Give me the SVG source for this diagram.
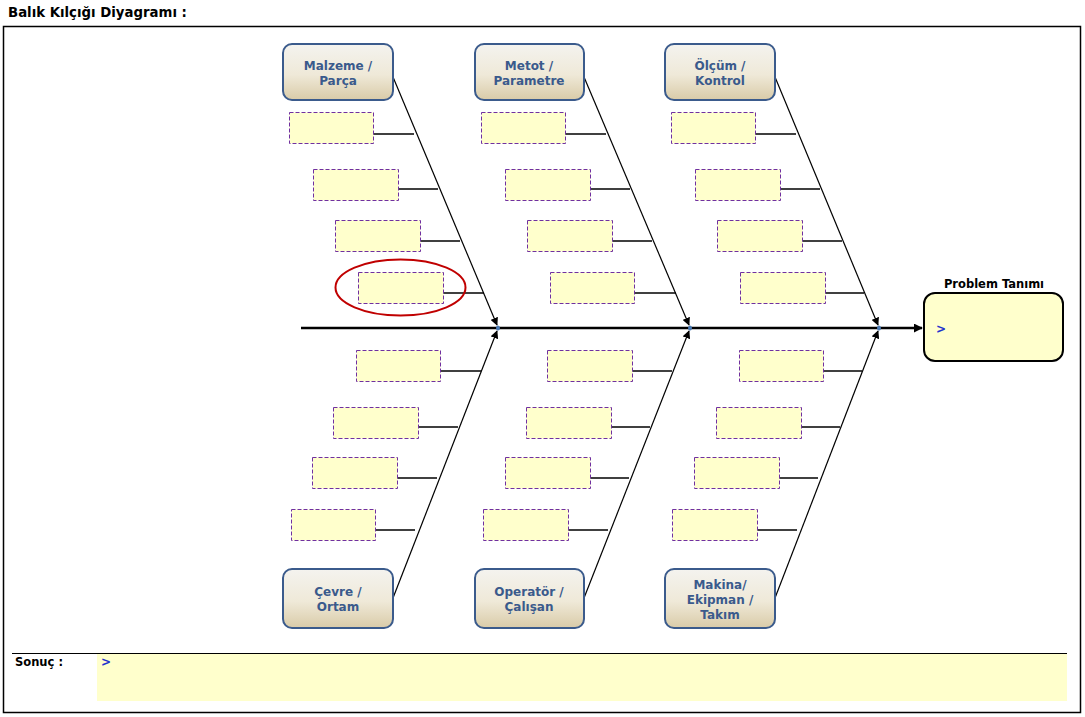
<svg xmlns="http://www.w3.org/2000/svg" width="1085" height="717" viewBox="0 0 1085 717">
<defs>
<linearGradient id="cat" x1="0" y1="0" x2="0" y2="1">
<stop offset="0" stop-color="#F4F3EF"/>
<stop offset="0.55" stop-color="#EFE9D8"/>
<stop offset="1" stop-color="#D9CBA8"/>
</linearGradient>
<marker id="ah" viewBox="0 0 10 10" refX="9" refY="5" markerWidth="8" markerHeight="8" markerUnits="userSpaceOnUse" orient="auto">
<path d="M0,0 L10,5 L0,10 z" fill="#000"/>
</marker>
<marker id="ahs" viewBox="0 0 10 10" refX="9" refY="5" markerWidth="9" markerHeight="9" markerUnits="userSpaceOnUse" orient="auto">
<path d="M0,0 L10,5 L0,10 z" fill="#000"/>
</marker>
</defs>
<style>
.cat{fill:url(#cat);stroke:#3B5B8C;stroke-width:2}
.ct{font-family:"DejaVu Sans",Verdana,sans-serif;font-weight:bold;font-size:12px;fill:#3A5A8C;text-anchor:middle}
.sb{fill:#FFFFCC;stroke:#7030A0;stroke-width:1;stroke-dasharray:4,2}
.tick{stroke:#000;stroke-width:1.3;fill:none}
.br{stroke:#000;stroke-width:1.2;fill:none;marker-end:url(#ah)}
.lbl{font-family:"DejaVu Sans",Verdana,sans-serif;font-weight:bold;font-size:11.5px;fill:#000}
.gt{font-family:"DejaVu Sans",Verdana,sans-serif;font-weight:bold;font-size:12px;fill:#2233CC}
.dot{fill:#4A7AB5}
</style>
<rect width="1085" height="717" fill="#fff"/>
<text x="8" y="17" font-family="DejaVu Sans, Verdana, sans-serif" font-weight="bold" font-size="13.3" fill="#000">Balık Kılçığı Diyagramı :</text>
<rect x="3.5" y="26.5" width="1077" height="686" fill="none" stroke="#000" stroke-width="1.5"/>

<g id="connectors">
<line x1="301" y1="328" x2="922" y2="328" stroke="#000" stroke-width="2.5" marker-end="url(#ahs)"/>
<line class="br" x1="393" y1="77" x2="497" y2="325"/>
<line class="br" x1="584" y1="77" x2="689" y2="325"/>
<line class="br" x1="775" y1="77" x2="878" y2="325"/>
<line class="br" x1="393" y1="598" x2="497" y2="331"/>
<line class="br" x1="584" y1="598" x2="689" y2="331"/>
<line class="br" x1="775" y1="598" x2="878" y2="331"/>
<line class="tick" x1="373" y1="134" x2="414" y2="134"/>
<line class="tick" x1="398" y1="189" x2="438" y2="189"/>
<line class="tick" x1="420" y1="241" x2="460" y2="241"/>
<line class="tick" x1="443" y1="293" x2="484" y2="293"/>
<line class="tick" x1="565" y1="134" x2="606" y2="134"/>
<line class="tick" x1="590" y1="189" x2="630" y2="189"/>
<line class="tick" x1="612" y1="241" x2="652" y2="241"/>
<line class="tick" x1="634" y1="293" x2="676" y2="293"/>
<line class="tick" x1="755" y1="134" x2="796" y2="134"/>
<line class="tick" x1="780" y1="189" x2="820" y2="189"/>
<line class="tick" x1="802" y1="241" x2="842" y2="241"/>
<line class="tick" x1="825" y1="293" x2="864" y2="293"/>
<line class="tick" x1="440" y1="371" x2="481" y2="371"/>
<line class="tick" x1="418" y1="427" x2="458" y2="427"/>
<line class="tick" x1="397" y1="478" x2="437" y2="478"/>
<line class="tick" x1="375" y1="530" x2="415" y2="530"/>
<line class="tick" x1="632" y1="371" x2="672" y2="371"/>
<line class="tick" x1="611" y1="427" x2="650" y2="427"/>
<line class="tick" x1="590" y1="478" x2="629" y2="478"/>
<line class="tick" x1="568" y1="530" x2="608" y2="530"/>
<line class="tick" x1="823" y1="371" x2="862" y2="371"/>
<line class="tick" x1="801" y1="427" x2="840" y2="427"/>
<line class="tick" x1="779" y1="478" x2="818" y2="478"/>
<line class="tick" x1="757" y1="530" x2="797" y2="530"/>
<ellipse class="dot" cx="498" cy="328" rx="2" ry="2.5"/>
<ellipse class="dot" cx="690" cy="328" rx="2" ry="2.5"/>
<ellipse class="dot" cx="879" cy="328" rx="2" ry="2.5"/>
</g>

<g id="malzeme"><rect class="cat" x="283" y="44" width="110" height="56" rx="9"/><text class="ct" x="338" y="70">Malzeme /</text><text class="ct" x="338" y="85">Parça</text></g>
<g id="metot"><rect class="cat" x="475" y="44" width="109" height="56" rx="9"/><text class="ct" x="529" y="70">Metot /</text><text class="ct" x="529" y="85">Parametre</text></g>
<g id="olcum"><rect class="cat" x="665" y="44" width="110" height="56" rx="9"/><text class="ct" x="720" y="70">Ölçüm /</text><text class="ct" x="720" y="85">Kontrol</text></g>
<g id="cevre"><rect class="cat" x="283" y="569" width="110" height="59" rx="9"/><text class="ct" x="338" y="596">Çevre /</text><text class="ct" x="338" y="611">Ortam</text></g>
<g id="operator"><rect class="cat" x="475" y="569" width="109" height="59" rx="9"/><text class="ct" x="529" y="596">Operatör /</text><text class="ct" x="529" y="611">Çalışan</text></g>
<g id="makina"><rect class="cat" x="665" y="569" width="110" height="59" rx="9"/><text class="ct" x="720" y="589">Makina/</text><text class="ct" x="720" y="604">Ekipman /</text><text class="ct" x="720" y="619">Takım</text></g>

<g id="boxes-top">
<rect class="sb" x="289.5" y="112.5" width="84" height="31"/>
<rect class="sb" x="313.5" y="169.5" width="85" height="31"/>
<rect class="sb" x="335.5" y="220.5" width="85" height="31"/>
<rect class="sb" x="358.5" y="272.5" width="85" height="31"/>
<rect class="sb" x="481.5" y="112.5" width="84" height="31"/>
<rect class="sb" x="505.5" y="169.5" width="85" height="31"/>
<rect class="sb" x="527.5" y="220.5" width="85" height="31"/>
<rect class="sb" x="550.5" y="272.5" width="84" height="31"/>
<rect class="sb" x="671.5" y="112.5" width="84" height="31"/>
<rect class="sb" x="695.5" y="169.5" width="85" height="31"/>
<rect class="sb" x="717.5" y="220.5" width="85" height="31"/>
<rect class="sb" x="740.5" y="272.5" width="85" height="31"/>
</g>
<g id="boxes-bottom">
<rect class="sb" x="356.5" y="350.5" width="84" height="31"/>
<rect class="sb" x="333.5" y="407.5" width="85" height="31"/>
<rect class="sb" x="312.5" y="457.5" width="85" height="31"/>
<rect class="sb" x="291.5" y="509.5" width="84" height="31"/>
<rect class="sb" x="547.5" y="350.5" width="85" height="31"/>
<rect class="sb" x="526.5" y="407.5" width="85" height="31"/>
<rect class="sb" x="505.5" y="457.5" width="85" height="31"/>
<rect class="sb" x="483.5" y="509.5" width="85" height="31"/>
<rect class="sb" x="739.5" y="350.5" width="84" height="31"/>
<rect class="sb" x="716.5" y="407.5" width="85" height="31"/>
<rect class="sb" x="694.5" y="457.5" width="85" height="31"/>
<rect class="sb" x="672.5" y="509.5" width="85" height="31"/>
</g>

<g id="highlight"><ellipse cx="400.5" cy="287.5" rx="65" ry="28" fill="none" stroke="#C00000" stroke-width="2"/></g>

<g id="problem">
<text class="lbl" x="994" y="288" text-anchor="middle">Problem Tanımı</text>
<rect x="924" y="293" width="139" height="68" rx="11" fill="#FFFFCC" stroke="#000" stroke-width="2"/>
<text class="gt" x="936" y="333">&gt;</text>
</g>

<g id="sonuc">
<line x1="12" y1="653.5" x2="1067" y2="653.5" stroke="#000" stroke-width="1.2"/>
<rect x="97" y="654" width="970" height="47" fill="#FFFFCC"/>
<text class="lbl" x="15" y="666">Sonuç :</text>
<text class="gt" x="101" y="666">&gt;</text>
</g>
</svg>
